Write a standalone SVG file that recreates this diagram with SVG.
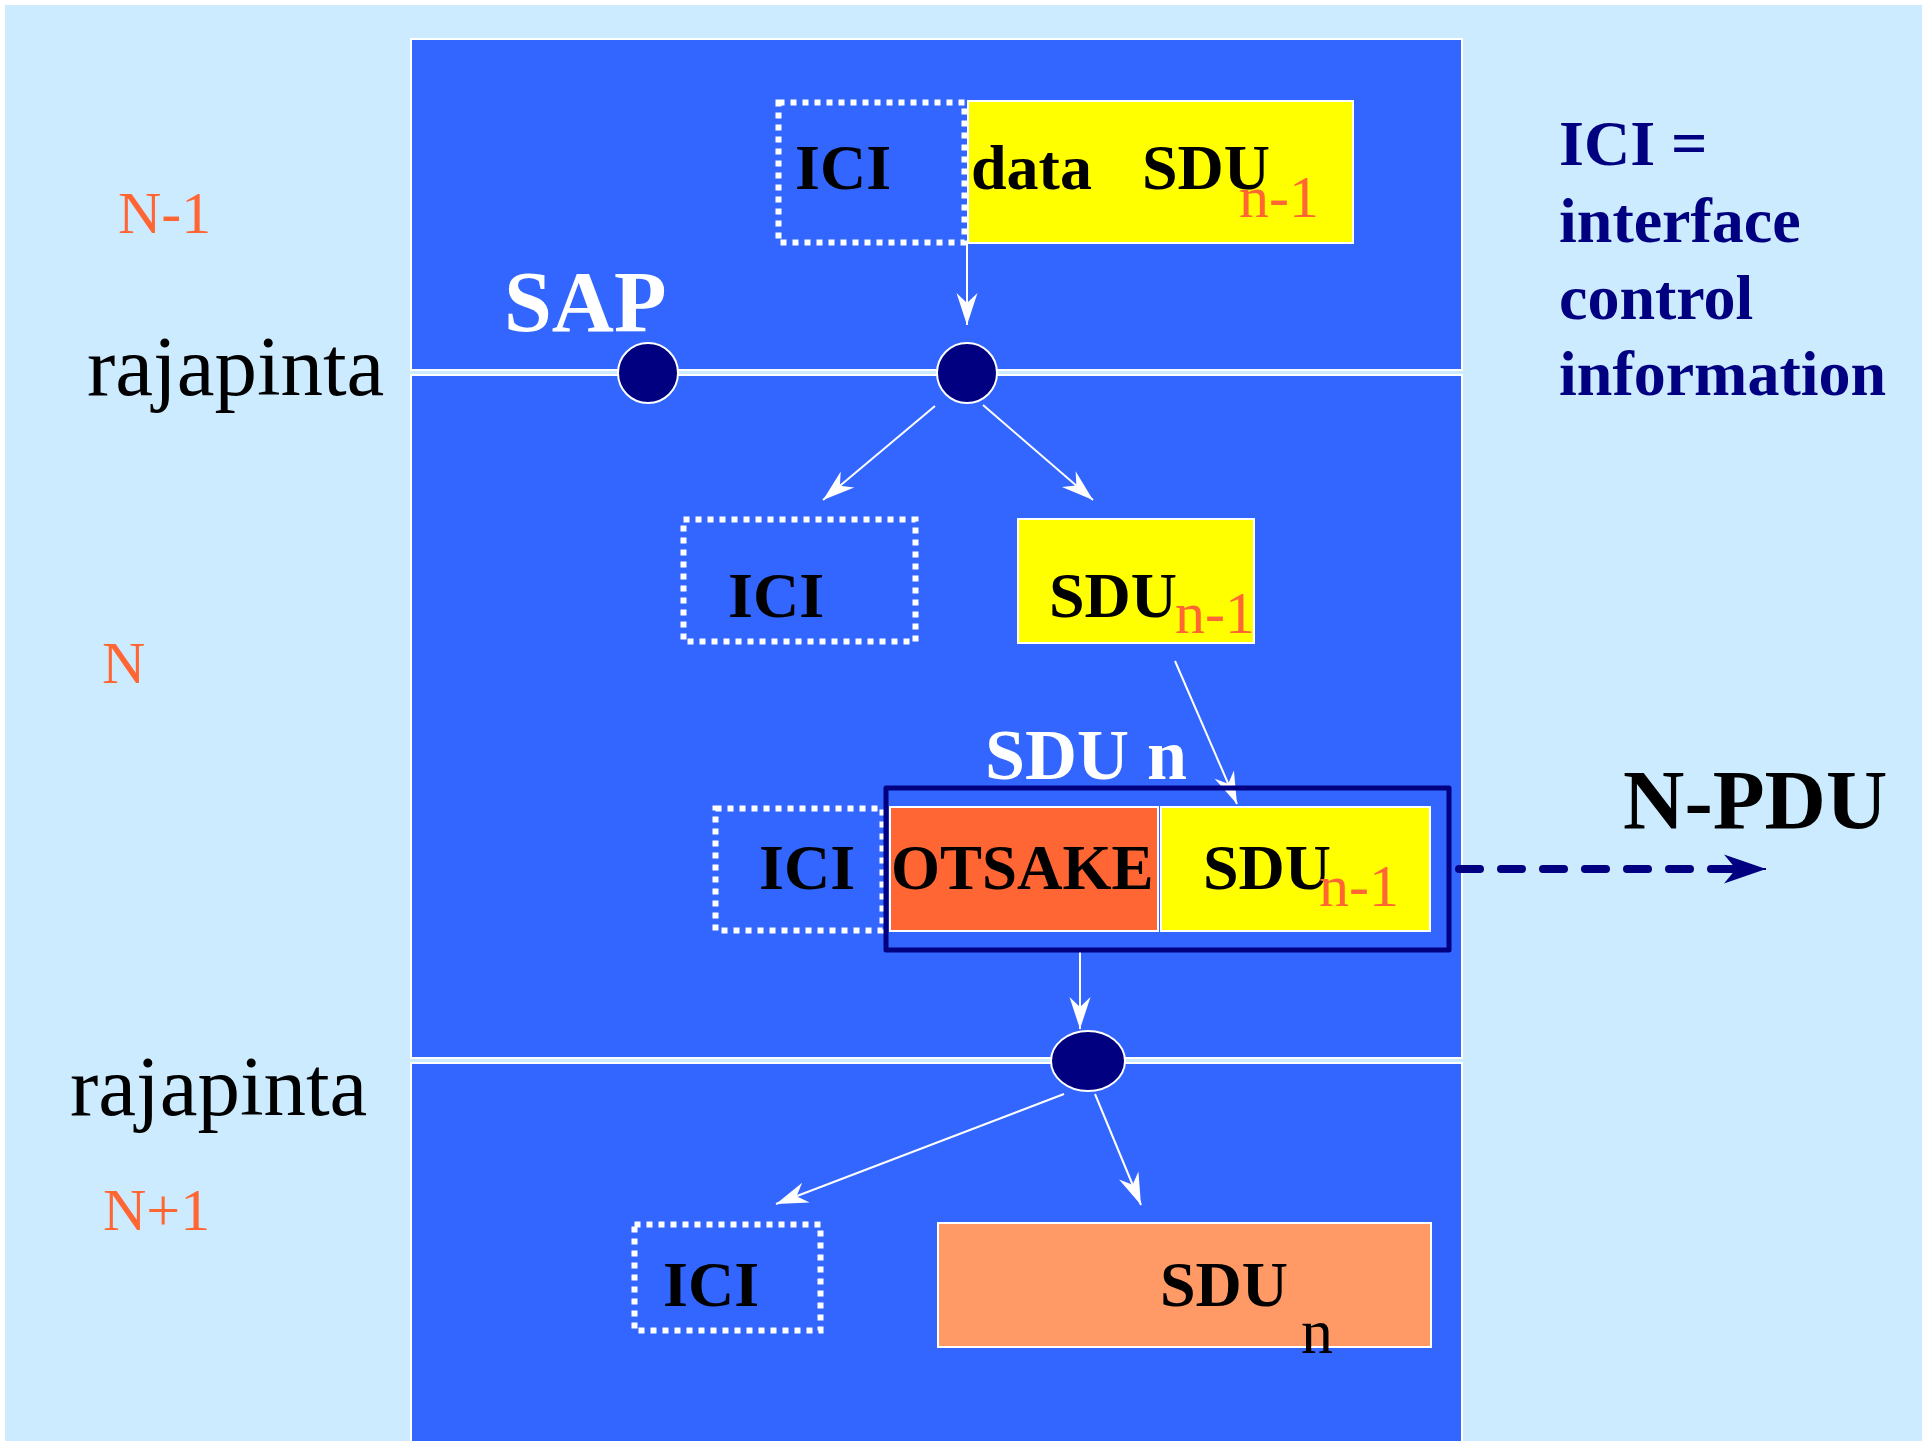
<svg xmlns="http://www.w3.org/2000/svg" width="1922" height="1441" viewBox="0 0 1922 1441">
<style>
.panel{fill:#3366FF;stroke:#FFFFFF;stroke-width:2}
.dot{fill:none;stroke:#FFFFFF;stroke-width:6;stroke-dasharray:6 6}
.box{stroke:#FFFFFF;stroke-width:2}
.b{font-family:"Liberation Serif","Times New Roman",serif;font-weight:bold;font-size:64px;fill:#000000}
.r{font-family:"Liberation Serif","Times New Roman",serif;font-weight:normal}
.lvl{font-family:"Liberation Serif","Times New Roman",serif;font-size:60px;fill:#FF6633}
.sub{font-family:"Liberation Serif","Times New Roman",serif;font-size:60px;fill:#FF6633}
.sap{fill:#000080;stroke:#FFFFFF;stroke-width:2}
.arr{stroke:#FFFFFF;stroke-width:2;fill:none;marker-end:url(#wa)}
.info{fill:#000080}
</style>
<defs>
<marker id="wa" markerUnits="userSpaceOnUse" markerWidth="40" markerHeight="30" refX="32" refY="15" orient="auto" overflow="visible">
<path d="M0,4.5 L32,15 L0,25.5 L10,15 Z" fill="#FFFFFF"/>
</marker>
<marker id="na" markerUnits="userSpaceOnUse" markerWidth="50" markerHeight="40" refX="42" refY="20" orient="auto" overflow="visible">
<path d="M0,5.5 L42,20 L0,34.5 L12,20 Z" fill="#000080"/>
</marker>
</defs>
<rect x="0" y="0" width="1922" height="1441" fill="#FFFFFF"/>
<rect x="5" y="5" width="1917" height="1436" fill="#CCEBFF"/>
<g id="panels">
<rect class="panel" x="411" y="39" width="1051" height="331"/>
<rect class="panel" x="411" y="375" width="1051" height="683"/>
<rect class="panel" x="411" y="1063" width="1051" height="390"/>
</g>
<g id="labels">
<text class="r lvl" x="118" y="233" font-family="Liberation Serif, serif">N-1</text>
<text class="r" x="87" y="395" font-size="85" fill="#000000">rajapinta</text>
<text class="r lvl" x="102" y="683" font-family="Liberation Serif, serif">N</text>
<text class="r" x="70" y="1115" font-size="85" fill="#000000">rajapinta</text>
<text class="r lvl" x="103" y="1230" font-family="Liberation Serif, serif">N+1</text>
<text class="b" x="504" y="331" style="font-size:86px;fill:#FFFFFF">SAP</text>
<text class="b" x="985" y="779" style="font-size:72px;fill:#FFFFFF">SDU n</text>
<text class="b" x="1623" y="829" style="font-size:85px">N-PDU</text>
</g>
<g id="legend">
<text class="b info" x="1559" y="165">ICI =</text>
<text class="b info" x="1559" y="242">interface</text>
<text class="b info" x="1559" y="319">control</text>
<text class="b info" x="1559" y="395">information</text>
</g>
<g id="connectors">
<line class="arr" x1="967" y1="243" x2="967" y2="325"/>
<line class="arr" x1="935" y1="406" x2="823" y2="500"/>
<line class="arr" x1="983" y1="405" x2="1093" y2="500"/>
<line class="arr" x1="1175" y1="661" x2="1237" y2="804"/>
<line class="arr" x1="1080" y1="951" x2="1080" y2="1029"/>
<line class="arr" x1="1064" y1="1094" x2="776" y2="1204"/>
<line class="arr" x1="1095" y1="1094" x2="1141" y2="1205"/>
<line x1="1455" y1="869" x2="1740" y2="869" stroke="#000080" stroke-width="8" stroke-linecap="round" stroke-dasharray="21 21" stroke-dashoffset="-4"/>
<line x1="1740" y1="869" x2="1766" y2="869" stroke="#000080" stroke-width="2" marker-end="url(#na)"/>
</g>
<g id="sap1"><ellipse class="sap" cx="648" cy="373" rx="30" ry="30"/></g>
<g id="sap2"><ellipse class="sap" cx="967" cy="373" rx="30" ry="30"/></g>
<g id="sap3"><ellipse class="sap" cx="1088" cy="1061" rx="37" ry="30"/></g>
<g id="ici1">
<rect class="dot" x="778.5" y="102.5" width="186" height="140"/>
<text class="b" x="795" y="189">ICI</text>
</g>
<g id="data-sdu1">
<rect class="box" x="968" y="101" width="385" height="142" fill="#FFFF00"/>
<text class="b" x="971" y="189">data</text>
<text class="b" x="1142" y="189">SDU</text>
<text class="sub" x="1239" y="217" font-family="Liberation Serif, serif">n-1</text>
</g>
<g id="ici2">
<rect class="dot" x="683.5" y="519.5" width="232" height="122"/>
<text class="b" x="728" y="617">ICI</text>
</g>
<g id="sdu2">
<rect class="box" x="1018" y="519" width="236" height="124" fill="#FFFF00"/>
<text class="b" x="1049" y="617">SDU</text>
<text class="sub" x="1175" y="633" font-family="Liberation Serif, serif">n-1</text>
</g>
<g id="ici3">
<rect class="dot" x="715.5" y="808.5" width="167" height="122"/>
<text class="b" x="759" y="889">ICI</text>
</g>
<g id="npdu">
<rect x="886" y="788" width="563" height="162" fill="none" stroke="#000080" stroke-width="5" stroke-linejoin="round"/>
</g>
<g id="otsake">
<rect class="box" x="890" y="807" width="268" height="124" fill="#FF6633"/>
<text class="b" x="891" y="889" style="font-size:63px">OTSAKE</text>
</g>
<g id="sdu3">
<rect class="box" x="1161" y="807" width="269" height="124" fill="#FFFF00"/>
<text class="b" x="1203" y="889">SDU</text>
<text class="sub" x="1319" y="906" font-family="Liberation Serif, serif">n-1</text>
</g>
<g id="ici4">
<rect class="dot" x="634.5" y="1224.5" width="186" height="106"/>
<text class="b" x="663" y="1306">ICI</text>
</g>
<g id="sdun">
<rect class="box" x="938" y="1223" width="493" height="124" fill="#FF9966"/>
<text class="b" x="1160" y="1306">SDU</text>
<text class="r" x="1301" y="1353" font-size="64" fill="#000000">n</text>
</g>
</svg>
